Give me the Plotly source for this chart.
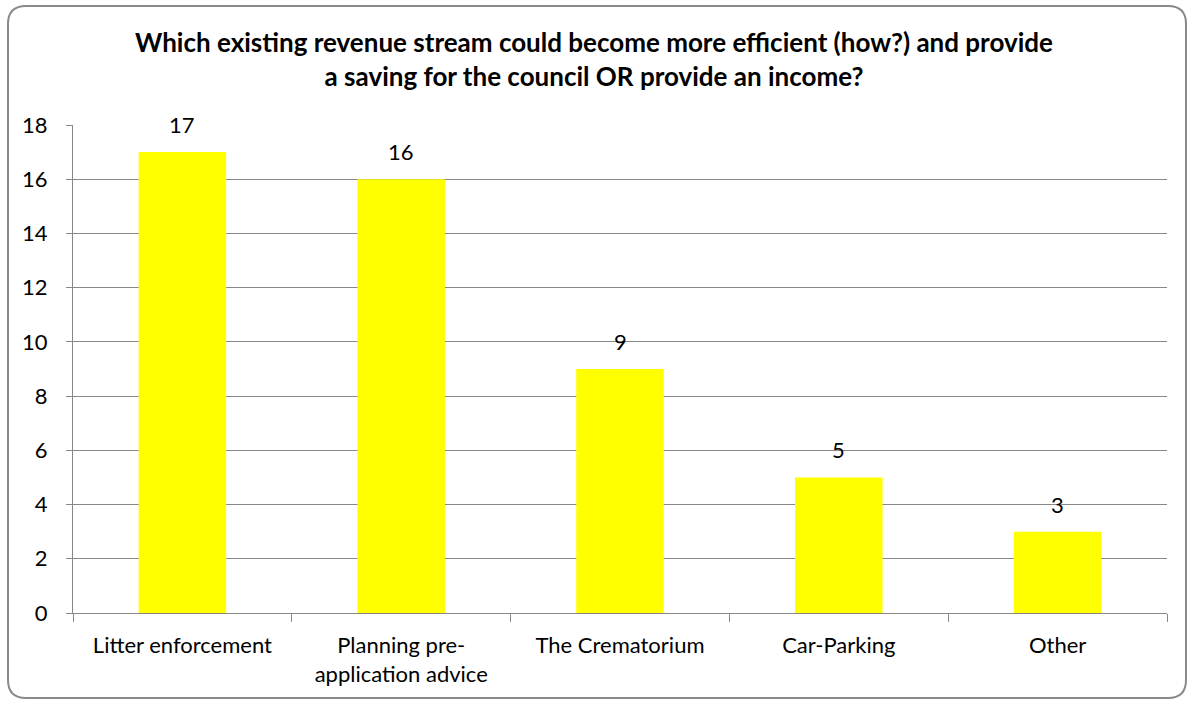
import plotly.graph_objects as go

categories = ["Litter enforcement", "Planning pre-<br>application advice", "The Crematorium", "Car-Parking", "Other"]
values = [17, 16, 9, 5, 3]
y_ticks = [0, 2, 4, 6, 8, 10, 12, 14, 16, 18]

W, H = 1188, 701
L, R, T, B = 73, 21, 125, 88
pw, ph = W - L - R, H - T - B

def px(x):
    return (x - L) / pw

def py(y):
    return (H - B - y) / ph

# rounded chart-area frame in paper coordinates
x0, x1, y0, y1, r = 8, 1186, 6, 698, 18
path = (
    f"M {px(x0 + r)},{py(y0)} L {px(x1 - r)},{py(y0)} "
    f"Q {px(x1)},{py(y0)} {px(x1)},{py(y0 + r)} "
    f"L {px(x1)},{py(y1 - r)} Q {px(x1)},{py(y1)} {px(x1 - r)},{py(y1)} "
    f"L {px(x0 + r)},{py(y1)} Q {px(x0)},{py(y1)} {px(x0)},{py(y1 - r)} "
    f"L {px(x0)},{py(y0 + r)} Q {px(x0)},{py(y0)} {px(x0 + r)},{py(y0)} Z"
)

font = "Lato, 'Open Sans', sans-serif"

fig = go.Figure(
    go.Bar(
        x=categories,
        y=values,
        marker=dict(color="#FFFF00", line=dict(width=0)),
        width=0.4,
    )
)

# value labels above each bar
for c, v in zip(categories, values):
    fig.add_annotation(
        x=c, y=v, text=str(v), showarrow=False,
        xanchor="center", yanchor="bottom", yshift=12,
        font=dict(family=font, size=22, color="#000000"),
    )

fig.update_layout(
    width=W,
    height=H,
    margin=dict(l=L, r=R, t=T, b=B),
    paper_bgcolor="white",
    plot_bgcolor="white",
    showlegend=False,
    font=dict(family=font, size=22, color="#000000"),
    title=dict(
        text="<b>Which existing revenue stream could become more efficient (how?) and provide<br>a saving for the council OR provide an income?</b>",
        x=0.5,
        xanchor="center",
        y=1 - 52 / H,
        yanchor="middle",
        font=dict(family=font, size=26, color="#000000"),
    ),
    shapes=[
        dict(type="path", xref="paper", yref="paper", path=path,
             line=dict(color="#8a8a8a", width=2), fillcolor="rgba(0,0,0,0)", layer="above")
    ],
)

fig.update_xaxes(
    showline=True,
    linecolor="#888888",
    linewidth=1,
    ticks="outside",
    tickson="boundaries",
    ticklen=8,
    tickcolor="#888888",
    showgrid=False,
    tickfont=dict(family=font, size=22),
    ticklabelstandoff=13,
    mirror=False,
)

fig.update_yaxes(
    range=[0, 18],
    tickvals=y_ticks,
    showline=True,
    linecolor="#888888",
    linewidth=1,
    ticks="outside",
    ticklen=6,
    tickcolor="#888888",
    showgrid=True,
    gridcolor="#888888",
    gridwidth=1,
    zeroline=False,
    tickfont=dict(family=font, size=22),
    ticklabelstandoff=14,
)

fig.write_html("out.html")
